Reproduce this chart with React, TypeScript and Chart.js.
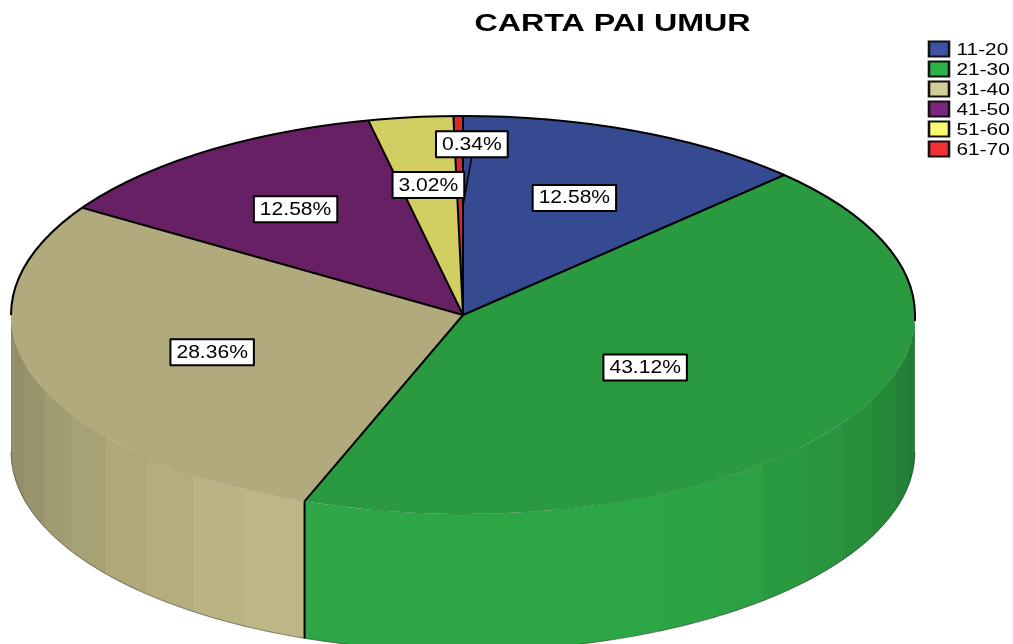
import React, { useEffect, useRef } from "react";
import { Chart, registerables } from "chart.js";

Chart.register(...registerables);

const categories = ["11-20", "21-30", "31-40", "41-50", "51-60", "61-70"];
const percentages = [12.58, 43.12, 28.36, 12.58, 3.02, 0.34];
const faceColors = ["#354A90", "#2A9A40", "#B0AA7C", "#682065", "#D2CE62", "#D42B2E"];
const legendColors = ["#3E53A4", "#2DB24A", "#D3CE98", "#7A2582", "#FBF973", "#F03237"];
const labelRadius = [0.64, 0.48, 0.585, 0.65, 0.66, 0.86];
const labelNudgeX = [0, 0, 0, 0, 0, 13];
const chartTitle = "CARTA PAI UMUR";

const WIDTH = 1013;
const HEIGHT = 644;
const CX = 463;
const CY = 315;
const RX = 452;
const RY = 199;
const TILT = RY / RX;
const DEPTH = 137;
const FONT = "'Liberation Sans', Arial, sans-serif";
const RAD = Math.PI / 180;
const BAND = 7.826 * RAD;
const BAND_START = 1.4 * RAD;

function shade(hex: string, f: number) {
  const n = parseInt(hex.slice(1), 16);
  const c = [(n >> 16) & 255, (n >> 8) & 255, n & 255].map((v) => Math.min(255, Math.round(v * f)));
  return `rgb(${c[0]},${c[1]},${c[2]})`;
}

function wallBand(ctx: CanvasRenderingContext2D, a: number, b: number, color: string) {
  ctx.beginPath();
  ctx.ellipse(CX, CY, RX, RY, 0, a, b, false);
  ctx.ellipse(CX, CY + DEPTH, RX, RY, 0, b, a, true);
  ctx.closePath();
  ctx.fillStyle = color;
  ctx.fill();
}

const pie3d = {
  id: "pie3d",
  beforeDraw(chart: any) {
    if (chart.$stretched) return;
    chart.$stretched = true;
    const ctx = chart.ctx;
    const legend = chart.legend;
    const legendDraw = legend.draw;
    legend.draw = function (...args: any[]) {
      const first = legend.legendHitBoxes[0];
      const fillText = ctx.fillText;
      ctx.fillText = function (t: string, x: number, y: number, ...rest: any[]) {
        fillText.call(ctx, t, x - 2.2, y + 1.6, ...rest);
      };
      ctx.save();
      ctx.translate(929, 41);
      ctx.scale(1.3, 1);
      ctx.translate(-first.left, -first.top);
      legendDraw.apply(legend, args);
      ctx.restore();
      delete ctx.fillText;
    };
    const title = chart.titleBlock;
    const titleDraw = title.draw;
    title.draw = function (...args: any[]) {
      ctx.save();
      ctx.translate(612.5, 24.5);
      ctx.scale(1.4, 1);
      ctx.translate(-(title.left + title.right) / 2, -(title.top + title.bottom) / 2);
      titleDraw.apply(title, args);
      ctx.restore();
    };
  },
  beforeDatasetDraw(chart: any, args: any) {
    const ctx = chart.ctx;
    const arcs = args.meta.data;
    arcs.forEach((arc: any, i: number) => {
      const start = Math.max(arc.startAngle, 0);
      const end = Math.min(arc.endAngle, Math.PI);
      if (end <= start) return;
      let a = start;
      while (a < end) {
        const k = Math.floor((a - BAND_START) / BAND + 1e-6) + 1;
        const b = Math.min(end, BAND_START + k * BAND);
        const mid = (a + b) / 2;
        const f = Math.min(1.075, 0.8 + 0.32 * Math.pow(Math.max(Math.sin(mid), 0), 1.3));
        wallBand(ctx, a, Math.min(end, b + 0.004), shade(faceColors[i], f));
        a = b;
      }
    });
    ctx.save();
    ctx.translate(CX, CY);
    ctx.scale(1, TILT);
    ctx.translate(-arcs[0].x, -arcs[0].y);
  },
  afterDatasetDraw(chart: any, args: any) {
    const ctx = chart.ctx;
    ctx.restore();
    const arcs = args.meta.data;
    ctx.save();
    ctx.lineCap = "butt";
    ctx.lineJoin = "round";

    // outer edges
    ctx.strokeStyle = "rgba(0,0,0,0.55)";
    ctx.lineWidth = 0.8;
    ctx.beginPath();
    ctx.ellipse(CX, CY + DEPTH, RX, RY, 0, 0, Math.PI, false);
    ctx.stroke();
    ctx.strokeStyle = "rgba(0,0,0,0.12)";
    ctx.lineWidth = 0.6;
    ctx.beginPath();
    ctx.ellipse(CX, CY, RX, RY, 0, 0, Math.PI, false);
    ctx.stroke();
    ctx.strokeStyle = "#000";
    ctx.lineWidth = 2;
    ctx.beginPath();
    ctx.moveTo(CX - RX, CY);
    ctx.ellipse(CX, CY, RX, RY, 0, Math.PI, 2 * Math.PI, false);
    ctx.lineTo(CX + RX, CY + 6);
    ctx.stroke();

    // slice edges
    arcs.forEach((arc: any) => {
      const px = CX + RX * Math.cos(arc.startAngle);
      const py = CY + RY * Math.sin(arc.startAngle);
      ctx.beginPath();
      ctx.moveTo(CX, CY);
      ctx.lineTo(px, py);
      ctx.stroke();
      if (arc.startAngle > 0 && arc.startAngle < Math.PI) {
        ctx.beginPath();
        ctx.moveTo(px, py);
        ctx.lineTo(px, py + DEPTH);
        ctx.stroke();
      }
    });

    // labels
    const positions = arcs.map((arc: any, i: number) => {
      const mid = (arc.startAngle + arc.endAngle) / 2;
      return {
        x: CX + RX * labelRadius[i] * Math.cos(mid) + labelNudgeX[i],
        y: CY + RY * labelRadius[i] * Math.sin(mid) + 0.5,
      };
    });

    // leader of the narrowest slice
    const last = arcs.length - 1;
    ctx.lineWidth = 1.6;
    ctx.beginPath();
    ctx.moveTo(positions[last].x, positions[last].y + 12);
    ctx.lineTo(
      CX + RX * 0.55 * Math.cos(arcs[last].endAngle),
      CY + RY * 0.55 * Math.sin(arcs[last].endAngle)
    );
    ctx.stroke();

    ctx.font = `18px ${FONT}`;
    ctx.textAlign = "center";
    ctx.textBaseline = "middle";
    const sx = 1.17;
    percentages.forEach((v, i) => {
      const text = `${v.toFixed(2)}%`;
      const { x, y } = positions[i];
      const w = ctx.measureText(text).width * sx + 12;
      ctx.fillStyle = "#fff";
      ctx.fillRect(x - w / 2, y - 13, w, 26);
      ctx.strokeStyle = "#000";
      ctx.lineWidth = 2;
      ctx.strokeRect(x - w / 2, y - 13, w, 26);
      ctx.save();
      ctx.translate(x, y + 0.5);
      ctx.scale(sx, 1);
      ctx.fillStyle = "#000";
      ctx.fillText(text, 0, 0);
      ctx.restore();
    });
    ctx.restore();
  },
};

export default function App() {
  const ref = useRef<HTMLCanvasElement>(null);
  useEffect(() => {
    const chart = new Chart(ref.current as HTMLCanvasElement, {
      type: "pie",
      plugins: [pie3d],
      data: {
        labels: categories,
        datasets: [
          {
            data: percentages,
            backgroundColor: faceColors,
            borderWidth: 0,
            radius: RX,
            clip: false,
          } as any,
        ],
      },
      options: {
        animation: false,
        responsive: false,
        events: [],
        plugins: {
          tooltip: { enabled: false },
          title: {
            display: true,
            text: chartTitle,
            color: "#000",
            font: { family: FONT, size: 23, weight: "bold" },
            padding: 4,
          },
          legend: {
            display: true,
            position: "right",
            align: "start",
            labels: {
              boxWidth: 20 / 1.3,
              boxHeight: 15,
              padding: 4,
              color: "#000",
              font: { family: FONT, size: 16 },
              generateLabels: () =>
                categories.map((text, i) => ({
                  text,
                  fillStyle: legendColors[i],
                  strokeStyle: "#111",
                  lineWidth: 2,
                  hidden: false,
                  index: i,
                })),
            },
          },
        },
      },
    } as any);
    return () => chart.destroy();
  }, []);
  return (
    <div style={{ position: "absolute", left: 0, top: 0, width: WIDTH, height: HEIGHT, background: "#fff", overflow: "hidden" }}>
      <canvas ref={ref} width={WIDTH} height={HEIGHT} style={{ display: "block" }} />
    </div>
  );
}
